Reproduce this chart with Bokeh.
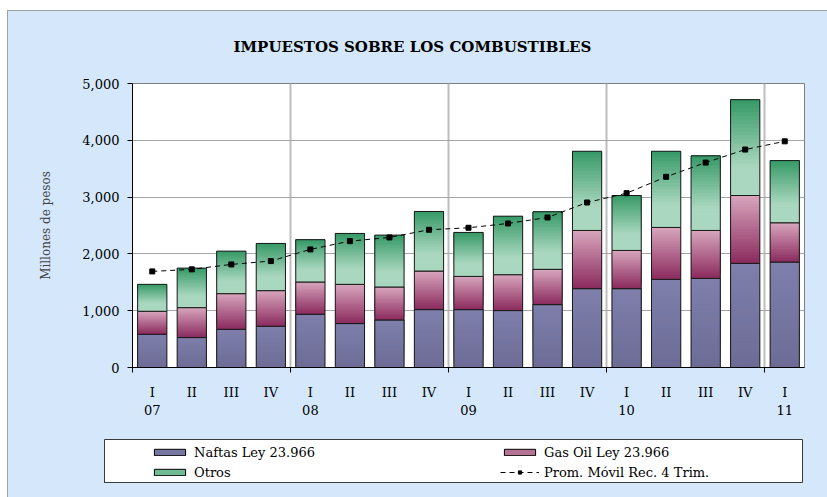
import numpy as np
from bokeh.plotting import figure
from bokeh.models import (ColumnDataSource, FixedTicker, LinearAxis, Legend, LegendItem,
                          Range1d, NumeralTickFormatter)
from bokeh.layouts import column
from bokeh.embed import file_html
from bokeh.resources import INLINE

# ---------------- data ----------------
title_text = "IMPUESTOS SOBRE LOS COMBUSTIBLES"
quarters = ["I", "II", "III", "IV", "I", "II", "III", "IV", "I", "II", "III", "IV",
            "I", "II", "III", "IV", "I"]
years = ["07", "08", "09", "10", "11"]
naftas = [585, 527, 673, 726, 937, 773, 837, 1019, 1019, 1002, 1107, 1388, 1388, 1552, 1569, 1833, 1856]
gasoil = [405, 527, 627, 627, 568, 691, 580, 679, 585, 632, 621, 1025, 673, 914, 844, 1195, 692]
otros = [474, 696, 749, 831, 745, 896, 914, 1049, 774, 1030, 1014, 1394, 967, 1341, 1313, 1687, 1095]
prom_movil = [1692, 1728, 1815, 1874, 2079, 2225, 2290, 2425, 2460, 2536, 2641, 2905, 3069, 3357, 3608, 3837, 3982]
y_ticks = [0, 1000, 2000, 3000, 4000, 5000]

BG = "#D5E8FB"
FONT = "DejaVu Serif"

n = len(quarters)
xc = np.arange(n) + 0.5
year_pos = [i * 4 + 0.5 for i in range(len(years))]
year_bounds = [i * 4 for i in range(len(years))]


def hex2rgb(h):
    h = h.lstrip("#")
    return np.array([int(h[i:i + 2], 16) for i in (0, 2, 4)], dtype=float)


def lerp(c0, c1, t):
    c = hex2rgb(c0) * (1 - t) + hex2rgb(c1) * t
    return "#%02x%02x%02x" % tuple(int(round(v)) for v in c)


p = figure(width=819, height=414, x_range=Range1d(0, n), y_range=Range1d(0, 5000),
           output_backend="svg", toolbar_location=None,
           min_border_left=124, min_border_right=23, min_border_top=72, min_border_bottom=58,
           background_fill_color="white", border_fill_color=BG,
           outline_line_color="#7F7F7F", outline_line_width=1,
           title=title_text)
p.frame_align = False

p.title.align = "left"
p.title.vertical_align = "top"
p.title.offset = 101
p.title.standoff = 51
p.title.text_font = FONT
p.title.text_font_size = "15px"
p.title.text_font_style = "bold"
p.title.text_color = "black"

# grids
p.ygrid.ticker = FixedTicker(ticks=y_ticks)
p.ygrid.grid_line_color = "#A6A6A6"
p.ygrid.grid_line_width = 1
p.xgrid.ticker = FixedTicker(ticks=year_bounds[1:])
p.xgrid.grid_line_color = "#BDBDBD"
p.xgrid.grid_line_width = 2

# y axis
ya = p.yaxis[0]
ya.ticker = FixedTicker(ticks=y_ticks)
ya.formatter = NumeralTickFormatter(format="0,0")
ya.major_tick_out = 5
ya.major_tick_in = 0
ya.minor_tick_line_color = None
ya.axis_line_color = "black"
ya.major_tick_line_color = "black"
ya.major_label_text_font = FONT
ya.major_label_text_font_size = "13px"
ya.major_label_text_color = "black"
ya.major_label_standoff = 8
ya.axis_label = "Millones de pesos"
ya.axis_label_text_font = FONT
ya.axis_label_text_font_size = "12px"
ya.axis_label_text_font_style = "normal"
ya.axis_label_standoff = 26

# x axis: quarters
xa = p.xaxis[0]
xa.ticker = FixedTicker(ticks=list(xc), minor_ticks=year_bounds)
xa.major_label_overrides = {float(x): q for x, q in zip(xc, quarters)}
xa.major_tick_line_color = None
xa.major_tick_out = 0
xa.major_tick_in = 0
xa.minor_tick_line_color = "black"
xa.minor_tick_out = 5
xa.minor_tick_in = 0
xa.axis_line_color = "black"
xa.major_label_text_font = FONT
xa.major_label_text_font_size = "13px"
xa.major_label_text_color = "black"
xa.major_label_standoff = 12

# x axis: years
ya2 = LinearAxis(ticker=FixedTicker(ticks=year_pos),
                 major_label_overrides={float(x): y for x, y in zip(year_pos, years)},
                 axis_line_color=None, major_tick_line_color=None, minor_tick_line_color=None,
                 major_tick_out=0, major_tick_in=0, major_label_standoff=2,
                 major_label_text_font=FONT, major_label_text_font_size="13px",
                 major_label_text_color="black")
p.add_layout(ya2, "below")

# ---------------- stacked bars with vertical gradients ----------------
BW = 0.74
NB = 24
naf = np.array(naftas, dtype=float)
gas = np.array(gasoil, dtype=float)
otr = np.array(otros, dtype=float)
bases = [np.zeros(n), naf, naf + gas]
segs = [naf, gas, otr]
grads = [("#6C6C96", "#7F7FAC", False),   # bottom colour, top colour
         ("#8A2A5D", "#D8A6BD", False),
         ("#A9D7BF", "#369966", True)]

for base, seg, (cb, ct, late) in zip(bases, segs, grads):
    for k in range(NB):
        t = (k + 0.5) / NB
        if late:
            t = min(max((t - 0.3) / 0.7, 0.0), 1.0)
        col = lerp(cb, ct, t)
        p.vbar(x=xc, bottom=base + seg * k / NB, top=base + seg,
               width=BW, fill_color=col, line_color=None)
    p.vbar(x=xc, bottom=base, top=base + seg, width=BW, fill_color=None,
           line_color="#1A1A1A", line_width=1)

p.line(xc, prom_movil, line_color="black", line_width=1, line_dash="5 4")
p.scatter(xc, prom_movil, marker="square", size=5, color="black")

# ---------------- legend panel ----------------
leg = figure(width=819, height=72, x_range=Range1d(0, 1), y_range=Range1d(0, 1),
             output_backend="svg", toolbar_location=None,
             min_border_left=96, min_border_right=25, min_border_top=14, min_border_bottom=15,
             x_axis_location=None, y_axis_location=None,
             background_fill_color="white", border_fill_color=BG,
             outline_line_color="#3A3A3A", outline_line_width=1)
leg.frame_align = False
leg.grid.visible = False
hidden = ColumnDataSource(dict(x=[-10.0], top=[-10.0]))
r1 = leg.vbar(x="x", top="top", width=0.1, source=hidden, fill_color="#7676A2", line_color="black")
r2 = leg.vbar(x="x", top="top", width=0.1, source=hidden, fill_color="#B77393", line_color="black")
r3 = leg.vbar(x="x", top="top", width=0.1, source=hidden, fill_color="#70BB94", line_color="black")
r4 = leg.line(x="x", y="top", source=hidden, line_color="black", line_dash="5 4", line_width=1)
r5 = leg.scatter(x="x", y="top", source=hidden, marker="square", size=4, color="black")

items = [LegendItem(label="Naftas Ley 23.966", renderers=[r1]),
         LegendItem(label="Gas Oil Ley 23.966", renderers=[r2]),
         LegendItem(label="Otros", renderers=[r3]),
         LegendItem(label="Prom. Móvil Rec. 4 Trim.", renderers=[r4, r5])]
legend = Legend(items=items, location=(46, 0), orientation="horizontal", ncols=2,
                border_line_color=None, background_fill_alpha=0, padding=0, margin=0,
                spacing=0, glyph_width=39, glyph_height=8, label_height=20, label_width=306,
                label_standoff=5, label_text_font=FONT, label_text_font_size="13px",
                label_text_color="black")
leg.add_layout(legend)

layout = column(p, leg, spacing=0,
                styles={"margin-left": "7px", "margin-top": "10px",
                        "border-left": "1px solid #A0A0A0", "border-top": "1px solid #A0A0A0",
                        "background-color": BG})
open("out.html", "w").write(file_html(layout, INLINE))
